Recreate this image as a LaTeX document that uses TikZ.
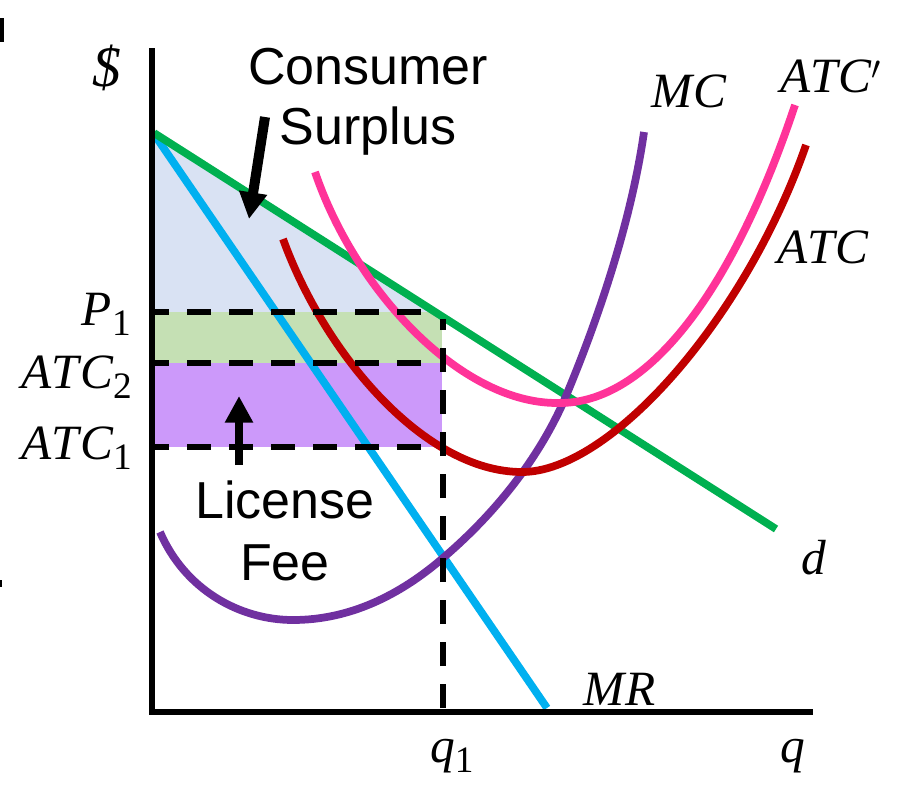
\documentclass[tikz,border=0pt]{standalone}
\usepackage{fontspec}
\setmainfont{Liberation Sans}
\newfontfamily\mfont[LetterSpace=3]{Liberation Serif}
\usetikzlibrary{arrows.meta}
\definecolor{csblue}{HTML}{D9E2F3}
\definecolor{bandgreen}{HTML}{C5E0B4}
\definecolor{bandpurple}{HTML}{CC99FA}
\definecolor{mrblue}{HTML}{00B0F0}
\definecolor{dgreen}{HTML}{00B050}
\definecolor{atcpink}{HTML}{FF3399}
\definecolor{atcred}{HTML}{C00000}
\definecolor{mcpurple}{HTML}{7030A0}
\tikzset{
  x=0.75pt, y=-0.75pt,
  curve/.style={line width=5.8pt, line cap=butt},
  guide/.style={line width=4.1pt, dash pattern=on 18pt off 13.5pt},
  axisline/.style={line width=3.9pt},
  bigarrow/.style={-{Triangle[length=20pt,width=20pt]}},
  word/.style={anchor=base, inner sep=0pt, font=\fontsize{39}{42}\selectfont},
  lab/.style={anchor=base, inner sep=0pt, font=\fontsize{37}{40}\selectfont\mfont\itshape},
  labr/.style={lab, anchor=base east},
}
\newcommand{\subn}[1]{\raisebox{-7.5pt}{\fontsize{28}{30}\selectfont\upshape #1}}
\begin{document}
\begin{tikzpicture}
\useasboundingbox (0,0) rectangle (910,785);
\fill[white] (0,0) rectangle (910,785);
% clipped fragments at the left edge
\fill[black] (0,18) rectangle (3.5,42);
\fill[black] (0,580) rectangle (1.5,587);
% shaded regions
\fill[csblue] (154,133) -- (435,312) -- (154,312) -- cycle;
\fill[bandgreen] (154,312) rectangle (442,363);
\fill[bandpurple] (154,363) rectangle (442,447);
% curves
\coordinate (mrtop) at (154,134);
\coordinate (mrend) at (547,708);
\coordinate (dtop) at (154,133);
\coordinate (dend) at (776,529);
\draw[curve, mrblue] (mrtop) -- (mrend);
\draw[curve, dgreen] (dtop) -- (dend);
\draw[curve, mcpurple] (160,532) .. controls (185,590) and (240,620) .. (293,620)
  .. controls (350,620) and (400,595) .. (443,558)
  .. controls (490,518) and (535,465) .. (563,403)
  .. controls (592,335) and (630,230) .. (644,132);
\draw[curve, atcred] (283,239) .. controls (325,355) and (425,472) .. (522,472)
  .. controls (610,472) and (745,320) .. (806,145);
\draw[curve, atcpink] (315,172) .. controls (355,290) and (460,403) .. (557,403)
  .. controls (650,405) and (735,285) .. (795,105);
% guides
\coordinate (p1l) at (153,312);
\coordinate (p1r) at (428,312);
\coordinate (a2l) at (153,363);
\coordinate (a2r) at (428,363);
\coordinate (a1l) at (153,447);
\coordinate (a1r) at (428,447);
\coordinate (qb) at (443,708);
\coordinate (qt) at (443,319);
\foreach \l/\r in {p1l/p1r,a2l/a2r,a1l/a1r}
  \draw[guide, dash phase=6pt, black] (\l) -- (\r);
\draw[guide, black] (qb) -- (qt);
% axes
\coordinate (ytop) at (152,48);
\coordinate (origin) at (152,712);
\coordinate (xend) at (813,712);
\draw[axisline, black, line join=miter] (ytop) -- (origin) -- (xend);
% annotation arrows
\coordinate (csfrom) at (265,117);
\coordinate (csto) at (249,219);
\coordinate (lffrom) at (239,465);
\coordinate (lfto) at (239,396);
\draw[bigarrow, line width=7.5pt, black] (csfrom) -- (csto);
\draw[bigarrow, line width=6.4pt, black] (lffrom) -- (lfto);
% words
\node[word] (cons) at (368,84) {Consumer};
\node[word] (surp) at (368,144) {Surplus};
\node[word] (lic) at (285,518) {License};
\node[word] (fee) at (285,580) {Fee};
% labels
\node[lab, font=\fontsize{43}{45}\selectfont\mfont\itshape] (dollar) at (107,86) {\$};
\node[labr] (p1) at (131,325) {P\subn{1}};
\node[labr] (atc2) at (132,388) {ATC\subn{2}};
\node[labr] (atc1) at (132,459) {ATC\subn{1}};
\node[lab, anchor=base west] (mc) at (651,107) {MC};
\node[lab, anchor=base west] (atcp) at (780,92) {ATC$'$};
\node[lab, anchor=base west] (atc) at (777,263) {ATC};
\node[lab, anchor=base west] (d) at (801,574) {d};
\node[lab, anchor=base west] (mr) at (583,705) {MR};
\node[lab, anchor=base west] (q1) at (430,762) {q\subn{1}};
\node[lab, anchor=base west] (q) at (780,762) {q};
\end{tikzpicture}
\end{document}
